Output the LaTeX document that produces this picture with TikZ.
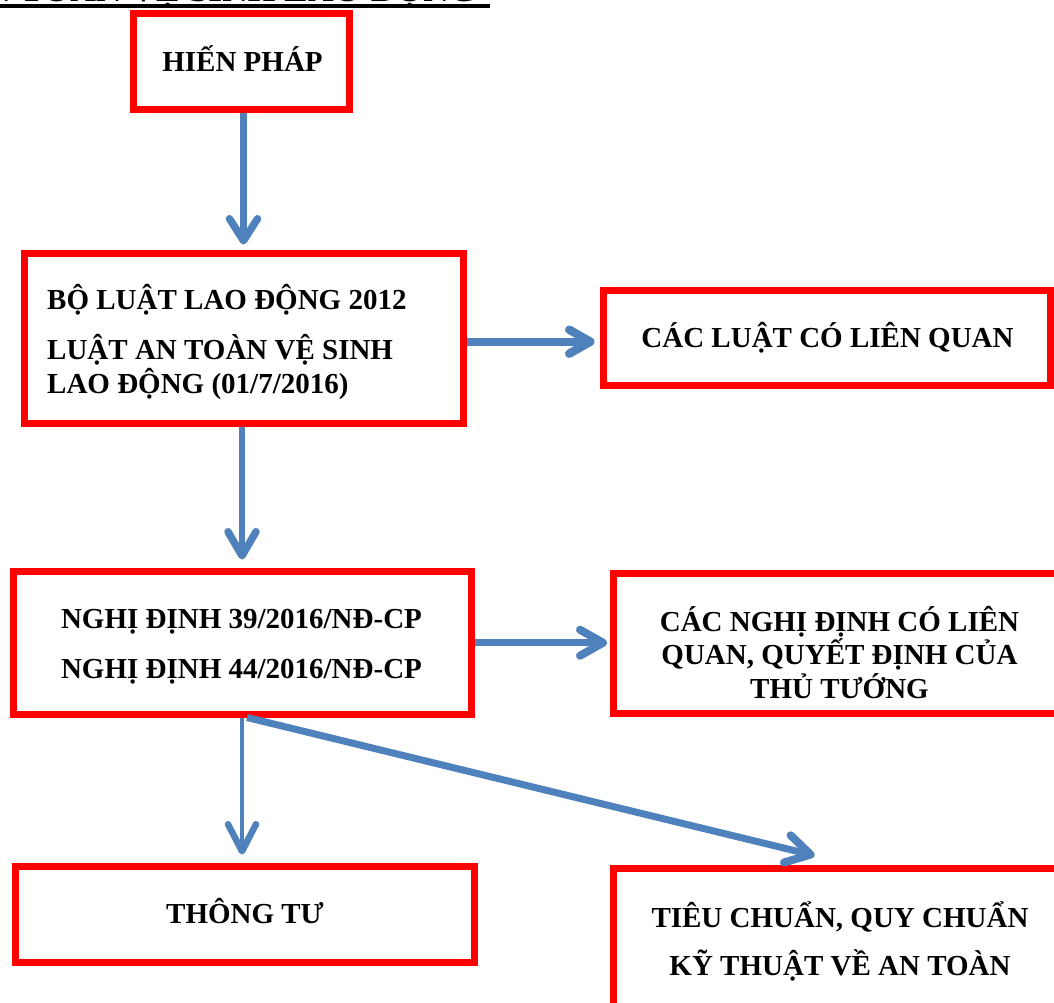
\documentclass[tikz,border=0pt]{standalone}
\usepackage{fontspec}
\setmainfont{Liberation Serif}
\usetikzlibrary{arrows.meta}
\definecolor{boxred}{RGB}{255,0,0}
\definecolor{arrblue}{RGB}{79,129,189}
\begin{document}
\begin{tikzpicture}[x=1pt,y=-1pt,
  box/.style={draw=boxred,line width=7pt,rectangle,inner sep=0pt},
  txt/.style={font=\fontsize{29}{34}\selectfont\bfseries,inner sep=0pt},
  arr/.style n args={4}{draw=arrblue,line width=#1pt,line cap=butt,
    -{Straight Barb[length=#2pt,width=#3pt,line width=#4pt,round]}}]
\useasboundingbox (0,0) rectangle (1054,1003);
\clip (0,0) rectangle (1054,1003);
% title (clipped at the top)
\node[font=\fontsize{35.5}{40}\selectfont\bfseries,inner sep=0pt,anchor=base east] (title) at (477,2) {AN TOÀN VỆ SINH LAO ĐỘNG};
\draw[line width=4pt] ([yshift=-4.3pt]title.base west) -- ([yshift=-4.3pt,xshift=13pt]title.base east);
% boxes
\node[box,minimum width=216.4pt,minimum height=95.6pt] (b1) at (241.5,61.5) {};
\node[box,minimum width=439pt,minimum height=170pt] (b2) at (243.5,338.5) {};
\node[box,minimum width=447.5pt,minimum height=95pt] (b3) at (826.75,337.5) {};
\node[box,minimum width=458pt,minimum height=142.5pt] (b4) at (242,642.75) {};
\node[box,minimum width=452.5pt,minimum height=140pt] (b5) at (839.75,643.5) {};
\node[box,minimum width=459pt,minimum height=95.5pt] (b6) at (245,914.25) {};
\node[box,minimum width=452.5pt,minimum height=191.5pt] (b7) at (839.75,964.25) {};
% texts
\node[txt,anchor=base] (t1) at (242.5,71.7) {HIẾN PHÁP};
\node[txt,anchor=base west] (t2a) at (47,309) {BỘ LUẬT LAO ĐỘNG 2012};
\node[txt,anchor=base west] (t2b) at (47,359) {LUẬT AN TOÀN VỆ SINH};
\node[txt,anchor=base west] (t2c) at (47,393) {LAO ĐỘNG (01/7/2016)};
\node[txt,anchor=base] (t3) at (827.5,347) {CÁC LUẬT CÓ LIÊN QUAN};
\node[txt,anchor=base] (t4a) at (241.5,628) {NGHỊ ĐỊNH 39/2016/NĐ-CP};
\node[txt,anchor=base] (t4b) at (241.5,678) {NGHỊ ĐỊNH 44/2016/NĐ-CP};
\node[txt,anchor=base] (t5a) at (839.5,631) {CÁC NGHỊ ĐỊNH CÓ LIÊN};
\node[txt,anchor=base] (t5b) at (839.5,664.5) {QUAN, QUYẾT ĐỊNH CỦA};
\node[txt,anchor=base] (t5c) at (839.5,698) {THỦ TƯỚNG};
\node[txt,anchor=base] (t6) at (245,923) {THÔNG TƯ};
\node[txt,anchor=base] (t7a) at (840,927) {TIÊU CHUẨN, QUY CHUẨN};
\node[txt,anchor=base] (t7b) at (840,975) {KỸ THUẬT VỀ AN TOÀN};
% connectors
\draw[arr={6.5}{22}{28}{7.5},shorten >=5.5pt] (b1.south -| b2.north) -- (b2.north);
\draw[arr={8}{21}{24}{8.5},shorten >=5pt] ([yshift=-3.2pt]b2.east) -- ([yshift=-3.2pt]b2.east -| b3.west);
\draw[arr={6.5}{24}{28}{7.5},shorten >=8.5pt] (b2.south -| b4.north) -- (b4.north);
\draw[arr={7}{23}{26}{8},shorten >=3pt] (b4.east) -- (b4.east -| b5.west);
\draw[arr={4.5}{27}{28}{6.5},shorten >=8.5pt] (b4.south) -- (b4.south |- b6.north);
\draw[arr={7}{24}{28}{8}] ([xshift=5pt]b4.south) -- ([xshift=204.5pt,yshift=9.5pt]b7.north west);
\end{tikzpicture}
\end{document}
